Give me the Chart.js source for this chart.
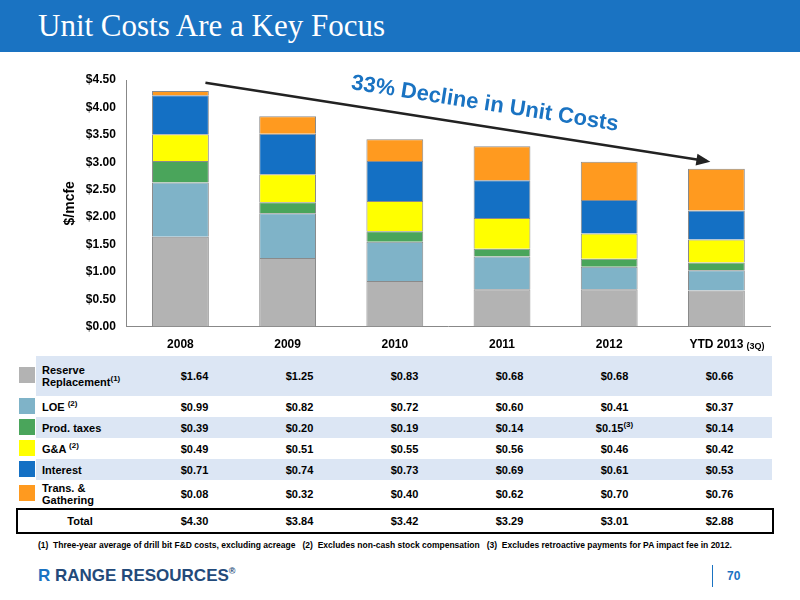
<!DOCTYPE html>
<html><head><meta charset="utf-8">
<script src="https://cdn.jsdelivr.net/npm/chart.js@4/dist/chart.umd.min.js"></script>
<style>
body{margin:0;width:800px;height:600px;background:#fff;font-family:"Liberation Sans",Arial,sans-serif;position:relative;overflow:hidden}
sup{line-height:0;font-size:8px}
#hdr{position:absolute;left:0;top:0;width:800px;height:52px;background:#1a73c2}
#hdr div{position:absolute;left:38px;top:8px;color:#fff;font-family:"Liberation Serif",serif;font-size:31px}
#cw{position:absolute;left:0;top:60px;width:800px;height:295px}
table{position:absolute;left:18px;top:356px;border-collapse:collapse;font-size:11px;font-weight:bold}
td{padding:0;text-align:center}
.lab{text-align:left;width:100px;line-height:12px}
.sw{width:18px}
.sw span{display:inline-block;width:16px;height:16px}
.b{background:#dce6f4}
#foot{position:absolute;left:38px;top:540px;font-size:8.5px;font-weight:bold}
#logo{position:absolute;left:38px;top:566px;font-size:17px;font-weight:bold;color:#234a7a}
#pg{position:absolute;left:712px;top:565px;border-left:1px solid #1a73c2;padding-left:14px;color:#1a73c2;font-weight:bold;font-size:12px;height:22px;line-height:22px}
</style></head><body>
<div id="hdr"><div>Unit Costs Are a Key Focus</div></div>
<div id="cw"><canvas id="c"></canvas></div>
<table id="t"></table>
<div id="foot">(1)&nbsp; Three-year average of drill bit F&amp;D costs, excluding acreage&nbsp;&nbsp; (2)&nbsp; Excludes non-cash stock compensation&nbsp;&nbsp; (3)&nbsp; Excludes retroactive payments for PA impact fee in 2012.</div>
<div id="logo"><span style="color:#1a73c2">R</span> RANGE RESOURCES<sup style="font-size:9px">®</sup></div>
<div id="pg">70</div>
<script>
const categories=["2008","2009","2010","2011","2012","YTD 2013"];
const reserve=[1.64,1.25,0.83,0.68,0.68,0.66];
const loe=[0.99,0.82,0.72,0.60,0.41,0.37];
const prodTaxes=[0.39,0.20,0.19,0.14,0.15,0.14];
const ga=[0.49,0.51,0.55,0.56,0.46,0.42];
const interest=[0.71,0.74,0.73,0.69,0.61,0.53];
const trans=[0.08,0.32,0.40,0.62,0.70,0.76];
const totals=[4.30,3.84,3.42,3.29,3.01,2.88];
const yTicks=[0,0.5,1,1.5,2,2.5,3,3.5,4,4.5];
const series=[
 {label:"Reserve Replacement",data:reserve,color:"#b3b3b3",name:"Reserve<br>Replacement<sup>(1)</sup>"},
 {label:"LOE",data:loe,color:"#7fb3c8",name:"LOE <sup>(2)</sup>"},
 {label:"Prod. taxes",data:prodTaxes,color:"#4aa55b",name:"Prod. taxes"},
 {label:"G&A",data:ga,color:"#ffff00",name:"G&amp;A <sup>(2)</sup>"},
 {label:"Interest",data:interest,color:"#1470c4",name:"Interest"},
 {label:"Trans. & Gathering",data:trans,color:"#ff9a1f",name:"Trans. &amp;<br>Gathering"}];
const fmt=v=>"$"+v.toFixed(2);
let h="";
series.forEach((s,i)=>{
 const cls=i%2==0?"b":"";
 const ht=(i==0?40:i==5?27:21);
 h+=`<tr class="${cls}" style="height:${ht}px"><td class="sw" style="background:#fff"><span style="background:${s.color}"></span></td><td style="width:6px"></td><td class="lab">${s.name}</td>`;
 s.data.forEach((v,j)=>{h+=`<td style="width:105px">${fmt(v)}${(i==2&&j==4)?'<sup>(3)</sup>':''}</td>`;});
 h+="</tr>";
});
h+=`<tr style="height:3px"><td colspan="9"></td></tr><tr style="height:22px;outline:2px solid #000"><td colspan="3" style="text-align:center">Total</td>`+totals.map(v=>`<td>${fmt(v)}</td>`).join("")+"</tr>";
document.getElementById("t").innerHTML=h;
const arrow={id:"arrow",afterDatasetsDraw(ch){
 const x=ch.scales.x,y=ch.scales.y,c=ch.ctx;
 const x1=x.getPixelForValue(0)+25,y1=y.getPixelForValue(4.45);
 const x2=x.getPixelForValue(5)-10,y2=y.getPixelForValue(3.02);
 c.save();c.strokeStyle="#222";c.fillStyle="#222";c.lineWidth=2.5;
 c.beginPath();c.moveTo(x1,y1);c.lineTo(x2,y2);c.stroke();
 const a=Math.atan2(y2-y1,x2-x1);
 c.beginPath();c.moveTo(x2+4*Math.cos(a),y2+4*Math.sin(a));
 c.lineTo(x2-10*Math.cos(a)+6*Math.sin(a),y2-10*Math.sin(a)-6*Math.cos(a));
 c.lineTo(x2-10*Math.cos(a)-6*Math.sin(a),y2-10*Math.sin(a)+6*Math.cos(a));c.fill();
 c.translate((x1+x2)/2+28,(y1+y2)/2-12);c.rotate(a);
 c.font="bold 22px 'Liberation Sans'";c.fillStyle="#1a73c2";c.textAlign="center";
 c.fillText("33% Decline in Unit Costs",0,0);c.restore();
 c.save();c.font="bold 9px 'Liberation Sans'";c.fillStyle="#000";
 c.fillText("(3Q)",x.getPixelForValue(5)+30,x.top+22);c.restore();
}};
new Chart(document.getElementById("c"),{type:"bar",
 data:{labels:categories,datasets:series.map(s=>({label:s.label,data:s.data,backgroundColor:s.color,borderColor:"#8a8a8a",borderWidth:1,barPercentage:0.53,categoryPercentage:1}))},
 options:{responsive:true,maintainAspectRatio:false,animation:false,
  layout:{padding:{left:58,right:30,top:20,bottom:0}},
  plugins:{legend:{display:false},tooltip:{enabled:false}},
  scales:{
   x:{stacked:true,grid:{display:false},border:{color:"#888"},ticks:{color:"#000",font:{weight:"bold",size:12}}},
   y:{stacked:true,min:0,max:4.5,afterBuildTicks:a=>{a.ticks=yTicks.map(v=>({value:v}))},grid:{display:false},border:{color:"#888"},
    ticks:{color:"#000",font:{weight:"bold",size:12},callback:v=>fmt(v)},
    title:{display:true,text:"$/mcfe",color:"#000",font:{weight:"bold",size:14}}}}},
 plugins:[arrow]});
</script></body></html>
